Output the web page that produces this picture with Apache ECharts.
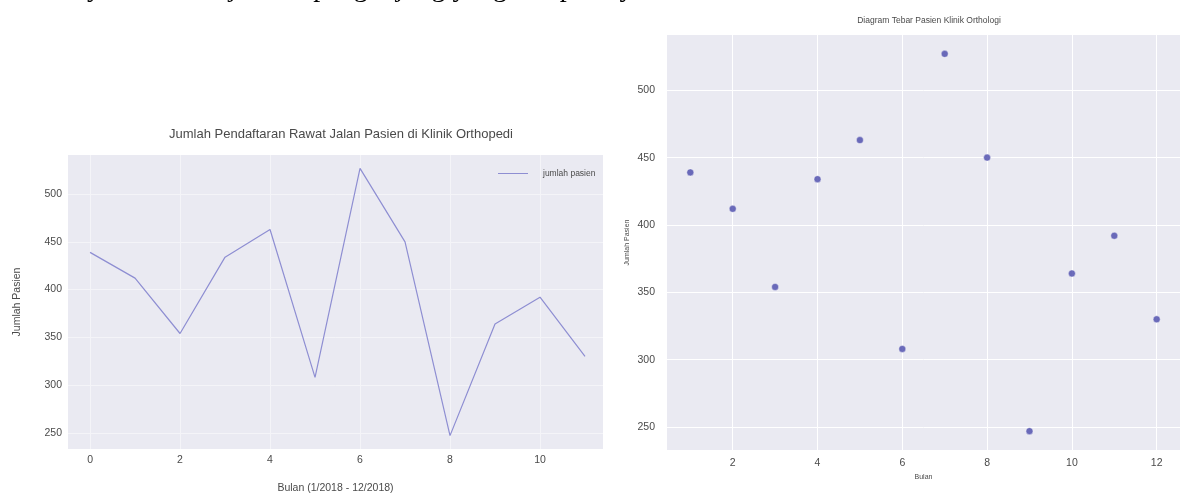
<!DOCTYPE html>
<html>
<head>
<meta charset="utf-8">
<script src="https://cdn.jsdelivr.net/npm/echarts@6/dist/echarts.min.js"></script>
<style>
  html, body { margin: 0; padding: 0; background: #fff; }
  #chart { width: 1192px; height: 495px; }
</style>
</head>
<body>
<div id="chart"></div>
<script>
// data
const bulanIndex = [0, 1, 2, 3, 4, 5, 6, 7, 8, 9, 10, 11];
const bulan = [1, 2, 3, 4, 5, 6, 7, 8, 9, 10, 11, 12];
const jumlahPasien = [439, 412, 354, 434, 463, 308, 527, 450, 247, 364, 392, 330];
const yTicks = [250, 300, 350, 400, 450, 500];
const xTicksLine = [0, 2, 4, 6, 8, 10];
const xTicksScatter = [2, 4, 6, 8, 10, 12];

const bg = '#EAEAF2';
const txt = '#4a4a4a';
const sans = 'Liberation Sans, Arial, sans-serif';

const lineData = bulanIndex.map((x, i) => [x, jumlahPasien[i]]);
const scatterData = bulan.map((x, i) => [x, jumlahPasien[i]]);

const chart = echarts.init(document.getElementById('chart'));
chart.setOption({
  animation: false,
  textStyle: { fontFamily: sans },
  title: [
    {
      text: 'Jumlah Pendaftaran Rawat Jalan Pasien di Klinik Orthopedi',
      left: 336, top: 123, textAlign: 'center',
      textStyle: { fontSize: 13, fontWeight: 'normal', color: txt, fontFamily: sans }
    },
    {
      text: 'Diagram Tebar Pasien Klinik Orthologi',
      left: 924, top: 11, textAlign: 'center',
      textStyle: { fontSize: 8.5, fontWeight: 'normal', color: txt, fontFamily: sans }
    }
  ],
  graphic: [
    {
      // text of the page above, cut off at the top
      type: 'text', x: 3, y: 2.5,
      style: {
        text: 'Hal ini yaitu terkait jumlah pengunjung yang ada pada yaitu',
        font: '28px "Liberation Serif", "Times New Roman", serif',
        fill: '#000',
        verticalAlign: 'bottom'
      }
    }
  ],
  legend: {
    data: ['jumlah pasien'],
    left: 493, top: 164,
    itemWidth: 30, itemHeight: 10,
    icon: 'path://M0,5 L30,5 L30,6 L0,6 Z',
    textStyle: { fontSize: 8.5, color: txt, padding: [0, 0, 0, 10] }
  },
  grid: [
    { left: 68, top: 155, width: 535, height: 294, backgroundColor: bg, show: true, borderWidth: 0, outerBoundsMode: 'none' },
    { left: 667, top: 35, width: 513, height: 415, backgroundColor: bg, show: true, borderWidth: 0, outerBoundsMode: 'none' }
  ],
  xAxis: [
    {
      gridIndex: 0, type: 'value', min: -0.49, max: 11.4,
      name: 'Bulan (1/2018 - 12/2018)', nameLocation: 'middle', nameGap: 34,
      nameTextStyle: { fontSize: 10.5, color: txt },
      axisLine: { show: false }, axisTick: { show: false, customValues: xTicksLine },
      axisLabel: { customValues: xTicksLine, fontSize: 10.5, color: txt, margin: 6 },
      splitLine: { show: true, lineStyle: { color: '#f4f4f8', width: 1 } }
    },
    {
      gridIndex: 1, type: 'value', min: 0.45, max: 12.55,
      name: 'Bulan', nameLocation: 'middle', nameGap: 24,
      nameTextStyle: { fontSize: 7, color: txt },
      axisLine: { show: false }, axisTick: { show: false, customValues: xTicksScatter },
      axisLabel: { customValues: xTicksScatter, fontSize: 10.5, color: txt, margin: 8 },
      splitLine: { show: true, lineStyle: { color: '#ffffff', width: 1 } }
    }
  ],
  yAxis: [
    {
      gridIndex: 0, type: 'value', min: 233, max: 541,
      name: 'Jumlah Pasien', nameLocation: 'middle', nameGap: 45,
      nameTextStyle: { fontSize: 10.5, color: txt },
      axisLine: { show: false }, axisTick: { show: false, customValues: yTicks },
      axisLabel: { customValues: yTicks, fontSize: 10.5, color: txt, margin: 6 },
      splitLine: { show: true, lineStyle: { color: '#f4f4f8', width: 1 } }
    },
    {
      gridIndex: 1, type: 'value', min: 233, max: 541,
      name: 'Jumlah Pasien', nameLocation: 'middle', nameGap: 36,
      nameTextStyle: { fontSize: 7, color: txt },
      axisLine: { show: false }, axisTick: { show: false, customValues: yTicks },
      axisLabel: { customValues: yTicks, fontSize: 10.5, color: txt, margin: 12 },
      splitLine: { show: true, lineStyle: { color: '#ffffff', width: 1 } }
    }
  ],
  series: [
    {
      name: 'jumlah pasien', type: 'line',
      xAxisIndex: 0, yAxisIndex: 0,
      data: lineData, symbol: 'none',
      color: '#8e8ed2',
      lineStyle: { color: '#8e8ed2', width: 1.2 }
    },
    {
      name: 'scatter', type: 'scatter',
      xAxisIndex: 1, yAxisIndex: 1,
      data: scatterData, symbolSize: 7,
      itemStyle: { color: '#4848aa', borderColor: '#ffffff', borderWidth: 0.5 }
    }
  ]
});
</script>
</body>
</html>
